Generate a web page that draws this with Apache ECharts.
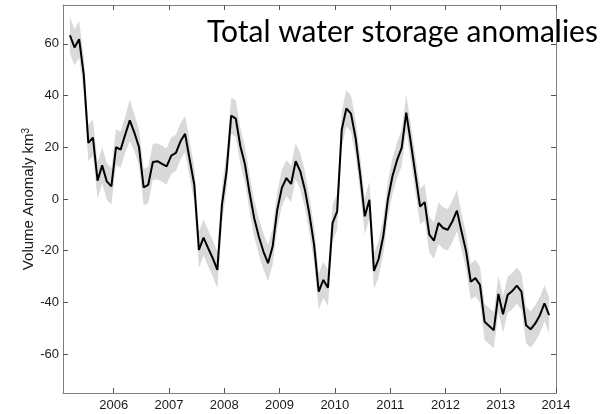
<!DOCTYPE html>
<html>
<head>
<meta charset="utf-8">
<script src="https://cdn.jsdelivr.net/npm/echarts@6/dist/echarts.min.js"></script>
<style>
html,body{margin:0;padding:0;background:#fff;}
#c{width:608px;height:414px;}
</style>
</head>
<body>
<div id="c"></div>
<script>
// Monthly values starting March 2005 (mid-month positions), km^3
var startYear = 2005;
var startMonth = 3;
var anomaly = [
  63.3, 58.6, 61.8, 48.2, 21.7, 23.7, 7.1, 13.0, 6.8, 4.9,
  20.0, 19.1, 24.9, 30.4, 25.6, 20.0, 4.5, 5.5, 14.3, 14.6,
  13.6, 12.6, 16.8, 17.8, 22.3, 25.2, 15.2, 5.5, -19.7, -14.9,
  -19.0, -22.9, -27.4, -2.2, 10.7, 32.2, 31.1, 20.4, 13.3, 2.3,
  -7.4, -14.5, -20.3, -24.8, -18.4, -4.2, 4.3, 8.1, 5.8, 14.6,
  10.7, 3.6, -6.1, -17.7, -35.8, -31.3, -34.3, -9.3, -4.8, 26.9,
  35.0, 33.0, 23.7, 9.4, -6.7, -0.3, -27.8, -23.2, -14.5, -0.3,
  8.8, 15.0, 19.8, 33.4, 21.7, 9.4, -2.9, -1.2, -13.8, -16.1,
  -9.3, -11.2, -11.9, -8.7, -4.5, -12.6, -20.3, -32.0, -30.6, -33.2,
  -47.5, -49.1, -50.7, -36.7, -44.6, -37.1, -35.6, -33.5, -35.8, -48.8,
  -50.4, -48.1, -44.9, -40.3, -44.9
];
// half-width of the shaded uncertainty band, km^3
var uncertainty = [
  7, 7, 7, 7, 7, 7, 7, 7, 7, 7,
  7, 7, 7, 8, 7, 7, 7, 7, 7, 7,
  7, 7, 7, 7, 7, 7, 7, 7, 7, 7,
  7, 7, 7, 7, 7, 7, 7, 7, 7, 7,
  7, 7, 7, 7, 7, 7, 7, 7, 7, 7,
  7, 7, 7, 7, 7, 7, 7, 7, 7, 7,
  7, 7, 7, 7, 7, 7, 7, 7, 7, 7,
  7, 7, 7, 7, 7, 7, 7, 7, 7, 7,
  8, 8, 8, 8, 8, 7, 7, 7, 7, 7,
  7, 7, 7, 7, 7, 7, 7, 7, 7, 7,
  7, 7, 7, 7, 7
];
var xTickLabels = [2006, 2007, 2008, 2009, 2010, 2011, 2012, 2013, 2014];
var yTickLabels = [-60, -40, -20, 0, 20, 40, 60];
var titleText = 'Total water storage anomalies';
var yName = 'Volume Anomaly km';

var xs = anomaly.map(function (v, i) {
  var m = startMonth - 1 + i;
  return startYear + (m + 0.5) / 12;
});
var lineData = xs.map(function (x, i) { return [x, anomaly[i]]; });
var bandData = xs.map(function (x, i) { return [x, anomaly[i] - uncertainty[i], anomaly[i] + uncertainty[i]]; });

var xMin = 2005 + 1 / 12, xMax = 2014, yMin = -75, yMax = 75;
var axisColor = '#808080';
var labelFont = '"Liberation Sans", Arial, sans-serif';

function xAxisDef(pos, showLabels) {
  return {
    type: 'value', position: pos, min: xMin, max: xMax,
    axisLine: { show: true, onZero: false, lineStyle: { color: axisColor, width: 1 } },
    axisTick: { show: true, inside: true, length: 5, customValues: xTickLabels, lineStyle: { color: '#555' } },
    axisLabel: { show: showLabels, customValues: xTickLabels, color: '#1a1a1a', fontSize: 13, fontFamily: labelFont, margin: 6,
      formatter: function (v) { return String(Math.round(v)); } },
    splitLine: { show: false }
  };
}
function yAxisDef(pos, showLabels) {
  var a = {
    type: 'value', position: pos, min: yMin, max: yMax,
    axisLine: { show: true, onZero: false, lineStyle: { color: axisColor, width: 1 } },
    axisTick: { show: true, inside: true, length: 5, customValues: yTickLabels, lineStyle: { color: '#555' } },
    axisLabel: { show: showLabels, customValues: yTickLabels, color: '#1a1a1a', fontSize: 13, fontFamily: labelFont, margin: 4 },
    splitLine: { show: false }
  };
  if (showLabels) {
    a.name = yName + '{sup|3}';
    a.nameLocation = 'middle';
    a.nameGap = 27;
    a.nameMoveOverlap = false;
    a.nameTextStyle = { color: '#1a1a1a', fontSize: 15, fontFamily: labelFont,
      rich: { sup: { fontSize: 10, verticalAlign: 'top', fontFamily: labelFont, color: '#1a1a1a' } } };
  }
  return a;
}

var chart = echarts.init(document.getElementById('c'), null, { renderer: 'canvas' });
chart.setOption({
  animation: false,
  backgroundColor: '#ffffff',
  title: {
    text: titleText, left: 202, top: 12,
    textStyle: { fontFamily: 'Lato, "Open Sans", sans-serif', fontWeight: 'normal', fontSize: 30, color: '#000' }
  },
  grid: { left: 63, right: 52, top: 5, bottom: 21, containLabel: false },
  xAxis: [xAxisDef('bottom', true), xAxisDef('top', false)],
  yAxis: [yAxisDef('left', true), yAxisDef('right', false)],
  series: [
    {
      type: 'custom', name: 'band', data: bandData, z: 1, silent: true,
      encode: { x: 0, y: [1, 2] },
      renderItem: function (params, api) {
        if (params.dataIndex !== 0) return null;
        var pts = [];
        for (var i = 0; i < bandData.length; i++) pts.push(api.coord([bandData[i][0], bandData[i][2]]));
        for (var j = bandData.length - 1; j >= 0; j--) pts.push(api.coord([bandData[j][0], bandData[j][1]]));
        return { type: 'polygon', shape: { points: pts }, style: { fill: '#d9d9d9' } };
      }
    },
    {
      type: 'line', name: 'anomaly', data: lineData, z: 3, symbol: 'none', silent: true,
      lineStyle: { color: '#000', width: 2 }
    }
  ]
});
</script>
</body>
</html>
